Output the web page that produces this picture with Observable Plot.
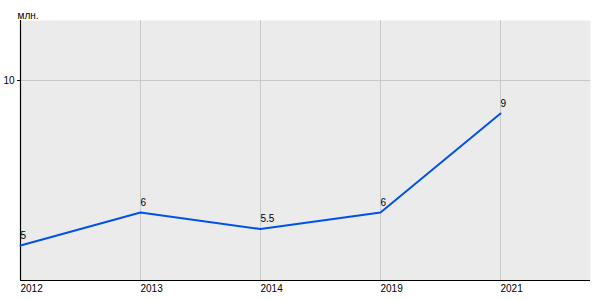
<!DOCTYPE html>
<html>
<head>
<meta charset="utf-8">
<script src="https://cdn.jsdelivr.net/npm/d3@7"></script>
<script src="https://cdn.jsdelivr.net/npm/@observablehq/plot@0.6"></script>
<style>
body{margin:0;background:#fff;}
svg{font-family:"Liberation Sans",Arial,sans-serif;}
</style>
</head>
<body>
<div id="chart"></div>
<script>
const years = ["2012","2013","2014","2019","2021"];
const values = [5, 6, 5.5, 6, 9];
const valueLabels = ["5","6","5.5","6","9"];
const yTicks = [10];
const unitLabel = "млн.";

const data = years.map((y, i) => ({i, year: y, value: values[i], label: valueLabels[i]}));
const idx = years.map((_, i) => i);
const yMin = 3.94, yMax = 11.82;

const chart = Plot.plot({
  width: 600,
  height: 300,
  marginLeft: 20,
  marginRight: 10,
  marginTop: 20,
  marginBottom: 20,
  style: {fontFamily: "Liberation Sans, Arial, sans-serif", fontSize: "10px", background: "#fff", color: "#000"},
  x: {domain: [0, 4.75], axis: null},
  y: {domain: [yMin, yMax], axis: null},
  marks: [
    Plot.frame({fill: "#ebebeb", stroke: null}),
    Plot.ruleX(idx, {x: d => d, stroke: "#c8c8c8", strokeWidth: 1}),
    Plot.ruleY(yTicks, {y: d => d, stroke: "#c8c8c8", strokeWidth: 1}),
    Plot.ruleX([0], {stroke: "#000", strokeWidth: 1.2}),
    Plot.ruleY([yMin], {stroke: "#000", strokeWidth: 1.2}),
    Plot.axisY(yTicks, {label: null, tickSize: 3, tickPadding: 3, fontSize: 10, stroke: "#000"}),
    Plot.axisX(idx, {label: null, tickSize: 0, tickPadding: 4, fontSize: 10, textAnchor: "start", tickFormat: i => years[i]}),
    Plot.line(data, {x: "i", y: "value", stroke: "#0050ea", strokeWidth: 2}),
    Plot.text(data, {x: "i", y: "value", text: "label", textAnchor: "start", dy: -10, fontSize: 10, fill: "#000"}),
    Plot.text([unitLabel], {frameAnchor: "top-left", text: d => d, dx: -3, dy: -9, textAnchor: "start", fontSize: 10, fill: "#000"})
  ]
});
document.getElementById("chart").appendChild(chart);
</script>
</body>
</html>
